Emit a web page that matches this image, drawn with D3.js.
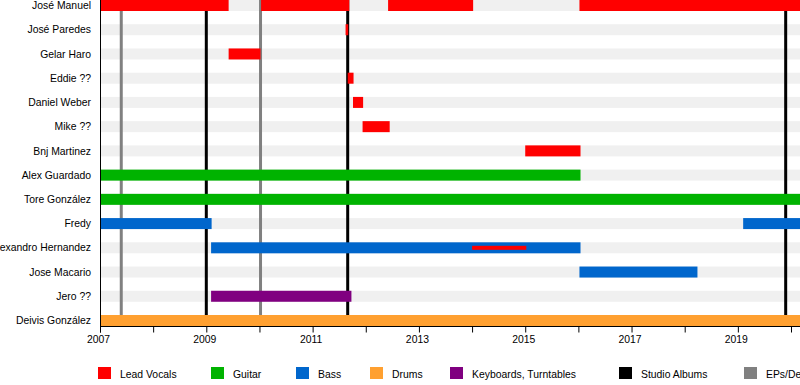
<!DOCTYPE html>
<html>
<head>
<meta charset="utf-8">
<script src="https://cdn.jsdelivr.net/npm/d3@7"></script>
<style>
  body { margin: 0; background: #fff; overflow: hidden; }
  svg { display: block; font-family: "Liberation Sans", Arial, sans-serif; }
</style>
</head>
<body>
<div id="chart"></div>
<script>
// members, top to bottom
const members = [
  "José Manuel", "José Paredes", "Gelar Haro", "Eddie ??", "Daniel Weber",
  "Mike ??", "Bnj Martinez", "Alex Guardado", "Tore González", "Fredy",
  "Alexandro Hernandez", "Jose Macario", "Jero ??", "Deivis González"
];

// roles
const roles = ["Lead Vocals", "Guitar", "Bass", "Drums", "Keyboards, Turntables"];
const roleColors = ["#ff0000", "#00b300", "#0066cc", "#ffa030", "#800080"];

// periods: [member, role, start, end]
const periods = [
  ["José Manuel", "Lead Vocals", 2007.0, 2009.42],
  ["José Manuel", "Lead Vocals", 2010.03, 2011.69],
  ["José Manuel", "Lead Vocals", 2012.42, 2014.02],
  ["José Manuel", "Lead Vocals", 2016.02, 2021.0],
  ["José Paredes", "Lead Vocals", 2011.62, 2011.67],
  ["Gelar Haro", "Lead Vocals", 2009.42, 2010.02],
  ["Eddie ??", "Lead Vocals", 2011.66, 2011.77],
  ["Daniel Weber", "Lead Vocals", 2011.76, 2011.95],
  ["Mike ??", "Lead Vocals", 2011.94, 2012.45],
  ["Bnj Martinez", "Lead Vocals", 2015.0, 2016.04],
  ["Alex Guardado", "Guitar", 2007.0, 2016.04],
  ["Tore González", "Guitar", 2007.0, 2021.0],
  ["Fredy", "Bass", 2007.0, 2009.1],
  ["Fredy", "Bass", 2019.1, 2021.0],
  ["Alexandro Hernandez", "Bass", 2009.09, 2016.04],
  ["Jose Macario", "Bass", 2016.02, 2018.24],
  ["Jero ??", "Keyboards, Turntables", 2009.09, 2011.73],
  ["Deivis González", "Drums", 2007.0, 2021.0]
];

// thin overlay lines: [member, role, start, end]
const overlays = [
  ["Alexandro Hernandez", "Lead Vocals", 2014.0, 2015.02]
];

// release markers
const studioAlbums = [2009.0, 2011.66, 2019.9];
const eps = [2007.4, 2010.02];

const tickYears = d3.range(2007, 2021);
const labelYears = [2007, 2009, 2011, 2013, 2015, 2017, 2019];

const legendItems = [
  ["Lead Vocals", "#ff0000"], ["Guitar", "#00b300"], ["Bass", "#0066cc"],
  ["Drums", "#ffa030"], ["Keyboards, Turntables", "#800080"],
  ["Studio Albums", "#000000"], ["EPs/Demos", "#808080"]
];
const legendX = [98, 211, 296, 370, 450, 619, 744];

const width = 800, height = 385;
const axisY = 326.5;
const barH = 11;
const fontSize = 10.4;

const svg = d3.select("#chart").append("svg")
  .attr("width", width).attr("height", height);

const x = d3.scaleLinear().domain([2007, 2020]).range([100, 791]);
const y = d3.scalePoint().domain(members).range([5.5, 320.5]);
const color = d3.scaleOrdinal().domain(roles).range(roleColors);

// background stripes
svg.append("g").selectAll("rect")
  .data(members)
  .join("rect")
  .attr("x", x(2007))
  .attr("y", d => y(d) - barH / 2)
  .attr("width", width - x(2007))
  .attr("height", barH)
  .attr("fill", "#f0f0f0");

// release lines
svg.append("g").selectAll("line")
  .data(eps.map(v => ({ v, c: "#808080" })).concat(studioAlbums.map(v => ({ v, c: "#000" }))))
  .join("line")
  .attr("x1", d => x(d.v)).attr("x2", d => x(d.v))
  .attr("y1", 0).attr("y2", axisY)
  .attr("stroke", d => d.c)
  .attr("stroke-width", 3);

// bars
svg.append("g").selectAll("rect")
  .data(periods)
  .join("rect")
  .attr("x", d => x(d[2]))
  .attr("y", d => y(d[0]) - barH / 2)
  .attr("width", d => x(d[3]) - x(d[2]))
  .attr("height", barH)
  .attr("fill", d => color(d[1]));

svg.append("g").selectAll("rect")
  .data(overlays)
  .join("rect")
  .attr("x", d => x(d[2]))
  .attr("y", d => y(d[0]) - 2)
  .attr("width", d => x(d[3]) - x(d[2]))
  .attr("height", 4)
  .attr("fill", d => color(d[1]));

// member names
svg.append("g").selectAll("text")
  .data(members)
  .join("text")
  .attr("x", 91)
  .attr("y", d => y(d))
  .attr("dy", "0.35em")
  .attr("text-anchor", "end")
  .attr("font-size", fontSize)
  .attr("fill", "#000")
  .text(d => d);

// axes
const xAxis = d3.axisBottom(x)
  .tickValues(tickYears)
  .tickSize(6)
  .tickFormat(d => labelYears.includes(d) ? d : "");

const ax = svg.append("g")
  .attr("transform", `translate(0,${axisY})`)
  .call(xAxis);
ax.select(".domain").attr("d", `M${x(2007)},0H${width}`).attr("stroke", "#000");
ax.selectAll(".tick line").attr("stroke", "#000");
ax.selectAll(".tick text")
  .attr("font-family", "Liberation Sans, Arial, sans-serif")
  .attr("font-size", fontSize)
  .attr("fill", "#000")
  .attr("dx", -2)
  .attr("y", 9);

svg.append("line")
  .attr("x1", x(2007) + 0.5).attr("x2", x(2007) + 0.5)
  .attr("y1", 0).attr("y2", axisY + 6)
  .attr("stroke", "#000");

// legend
const leg = svg.append("g").selectAll("g")
  .data(legendItems)
  .join("g")
  .attr("transform", (d, i) => `translate(${legendX[i]},367)`);
leg.append("rect")
  .attr("width", 13).attr("height", 12)
  .attr("fill", d => d[1]);
leg.append("text")
  .attr("x", 22).attr("y", 11)
  .attr("font-size", fontSize)
  .attr("fill", "#000")
  .text(d => d[0]);
</script>
</body>
</html>
